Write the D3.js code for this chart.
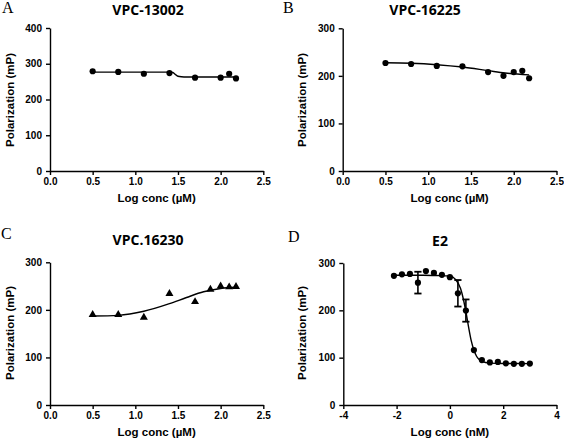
<!DOCTYPE html>
<html>
<head>
<meta charset="utf-8">
<script src="https://cdn.jsdelivr.net/npm/d3@7"></script>
<style>
  html, body { margin: 0; padding: 0; background: #fff; }
  svg { display: block; }
  .tick text { font-family: "Liberation Sans", Arial, sans-serif; font-weight: bold; font-size: 10px; fill: #000; }
  .domain, .tick line { stroke: #000; stroke-width: 1.4px; }
</style>
</head>
<body>
<script>
// ---------------- data ----------------
const titles = ["VPC-13002", "VPC-16225", "VPC.16230", "E2"];
const panelLetters = ["A", "B", "C", "D"];
const xLabels = ["Log conc (\u00B5M)", "Log conc (\u00B5M)", "Log conc (\u00B5M)", "Log conc (nM)"];
const yLabel = "Polarization (mP)";

const xTicksUM = [0.0, 0.5, 1.0, 1.5, 2.0, 2.5];
const xTicksNM = [-4, -2, 0, 2, 4];
const yTicksA = [0, 100, 200, 300, 400];
const yTicks300 = [0, 100, 200, 300];

// Panel A
const aX = [0.5, 0.8, 1.1, 1.4, 1.7, 2.0, 2.1, 2.18];
const aY = [279, 277, 272, 274, 261, 261, 272, 259];
const aCurveX = [0.5, 1.4, 1.44, 1.47, 1.5, 1.54, 1.6, 2.18];
const aCurveY = [276.5, 276.5, 275.5, 270, 265, 263.5, 263, 263];

// Panel B
const bX = [0.5, 0.8, 1.1, 1.4, 1.7, 1.88, 2.0, 2.1, 2.18];
const bY = [227, 225, 221, 220, 208, 200, 208, 210.5, 195];
const bCurveX = [0.5, 0.8, 1.1, 1.4, 1.7, 1.9, 2.18];
const bCurveY = [227.5, 226.5, 223.5, 218.5, 211, 206, 202];

// Panel C
const cX = [0.5, 0.8, 1.1, 1.4, 1.7, 1.88, 2.0, 2.1, 2.18];
const cY = [190, 190, 184, 234, 217, 243, 250, 248, 249];
const cCurveX = [0.5, 0.8, 1.1, 1.4, 1.6, 1.8, 2.0, 2.18];
const cCurveY = [187, 188.5, 197, 213, 226, 238, 245, 247.5];

// Panel D
const dX = [-2.1, -1.8, -1.5, -1.2, -0.9, -0.6, -0.3, 0, 0.3, 0.6, 0.9, 1.2, 1.5, 1.8, 2.1, 2.4, 2.7, 3.0];
const dY = [273, 276, 277, 258.5, 283, 279, 275, 270, 236, 199.5, 116, 95, 90, 91, 88, 87, 87, 87.5];
const dErr = [0, 0, 0, 23, 0, 0, 0, 0, 28, 23.5, 0, 0, 0, 0, 0, 0, 0, 0];
const dCurveX = [-2.1, -1, -0.5, 0, 0.2, 0.4, 0.5, 0.6, 0.7, 0.8, 0.9, 1.0, 1.1, 1.2, 1.5, 2, 3];
const dCurveY = [274, 274, 273.5, 272.5, 266, 246, 225, 197, 165, 136, 116, 103, 96, 92, 88.5, 87.6, 87.5];

// ---------------- layout ----------------
const W = 564, H = 440;
const svg = d3.select("body").append("svg").attr("width", W).attr("height", H);

const intFmt = d => String(d);   // plain hyphen-minus as in the reference

const panels = [
  { x0: 50,    x1: 263.3, yb: 171,   yt: 28,    xd: [0, 2.5], yd: [0, 400], xt: xTicksUM, yt_: yTicksA, fmt: d3.format(".1f"),
    px: aX, py: aY, cx: aCurveX, cy: aCurveY, sym: "circle", titleX: 148, titleY: 14.5, letterX: 2, letterY: 13, ylabX: 14, ylabY: 100, err: null },
  { x0: 342.7, x1: 556.5, yb: 171,   yt: 28.3,  xd: [0, 2.5], yd: [0, 300], xt: xTicksUM, yt_: yTicks300, fmt: d3.format(".1f"),
    px: bX, py: bY, cx: bCurveX, cy: bCurveY, sym: "circle", titleX: 425, titleY: 14.5, letterX: 283, letterY: 13, ylabX: 306, ylabY: 100, err: null },
  { x0: 50,    x1: 263.3, yb: 405,   yt: 262.3, xd: [0, 2.5], yd: [0, 300], xt: xTicksUM, yt_: yTicks300, fmt: d3.format(".1f"),
    px: cX, py: cY, cx: cCurveX, cy: cCurveY, sym: "triangle", titleX: 148, titleY: 245, letterX: 1, letterY: 239, ylabX: 14, ylabY: 333, err: null },
  { x0: 343.3, x1: 556.5, yb: 405,   yt: 263,   xd: [-4, 4], yd: [0, 300], xt: xTicksNM, yt_: yTicks300, fmt: intFmt,
    px: dX, py: dY, cx: dCurveX, cy: dCurveY, sym: "circle", titleX: 440, titleY: 245.5, letterX: 288, letterY: 242, ylabX: 306, ylabY: 333, err: dErr }
];

panels.forEach((p, i) => {
  const g = svg.append("g");
  const x = d3.scaleLinear().domain(p.xd).range([p.x0, p.x1]);
  const y = d3.scaleLinear().domain(p.yd).range([p.yb, p.yt]);

  // axes
  g.append("g").attr("transform", `translate(0,${p.yb})`)
    .call(d3.axisBottom(x).tickValues(p.xt).tickFormat(p.fmt).tickSize(4).tickPadding(3).tickSizeOuter(0));
  g.append("g").attr("transform", `translate(${p.x0},0)`)
    .call(d3.axisLeft(y).tickValues(p.yt_).tickSize(4).tickPadding(4).tickSizeOuter(0));

  // fitted curve
  const curvePts = p.cx.map((v, k) => [v, p.cy[k]]);
  g.append("path").datum(curvePts)
    .attr("fill", "none").attr("stroke", "#000").attr("stroke-width", 1.4)
    .attr("d", d3.line().x(d => x(d[0])).y(d => y(d[1])).curve(d3.curveMonotoneX));

  // error bars
  if (p.err) {
    p.px.forEach((v, k) => {
      const e = p.err[k];
      if (!e) return;
      const cx = x(v), yt = y(p.py[k] + e), yb2 = y(p.py[k] - e);
      g.append("line").attr("x1", cx).attr("x2", cx).attr("y1", yt).attr("y2", yb2)
        .attr("stroke", "#000").attr("stroke-width", 1.6);
      [yt, yb2].forEach(yy => g.append("line").attr("x1", cx - 3.6).attr("x2", cx + 3.6).attr("y1", yy).attr("y2", yy)
        .attr("stroke", "#000").attr("stroke-width", 1.8));
    });
  }

  // markers
  const pts = p.px.map((v, k) => [v, p.py[k]]);
  if (p.sym === "circle") {
    g.selectAll("circle.pt").data(pts).enter().append("circle")
      .attr("cx", d => x(d[0])).attr("cy", d => y(d[1])).attr("r", 3.1).attr("fill", "#000");
  } else {
    const tri = d3.symbol().type(d3.symbolTriangle).size(28);
    g.selectAll("path.pt").data(pts).enter().append("path")
      .attr("d", tri).attr("transform", d => `translate(${x(d[0])},${y(d[1])})`).attr("fill", "#000");
  }

  // title
  g.append("text").attr("x", p.titleX).attr("y", p.titleY).attr("text-anchor", "middle")
    .style("font-family", "'Open Sans', 'DejaVu Sans', sans-serif").style("font-weight", "bold").style("font-size", "14px")
    .text(titles[i]);
  // panel letter
  g.append("text").attr("x", p.letterX).attr("y", p.letterY)
    .style("font-family", "'Liberation Serif', 'Times New Roman', serif").style("font-size", "16px")
    .text(panelLetters[i]);
  // x label
  g.append("text").attr("x", (p.x0 + p.x1) / 2).attr("y", p.yb + 31).attr("text-anchor", "middle")
    .style("font-family", "'Liberation Sans', Arial, sans-serif").style("font-weight", "bold").style("font-size", "11.5px")
    .text(xLabels[i]);
  // y label
  g.append("text").attr("transform", `translate(${p.ylabX},${p.ylabY}) rotate(-90)`).attr("text-anchor", "middle")
    .style("font-family", "'Liberation Sans', Arial, sans-serif").style("font-weight", "bold").style("font-size", "11.5px")
    .text(yLabel);
});
</script>
</body>
</html>
